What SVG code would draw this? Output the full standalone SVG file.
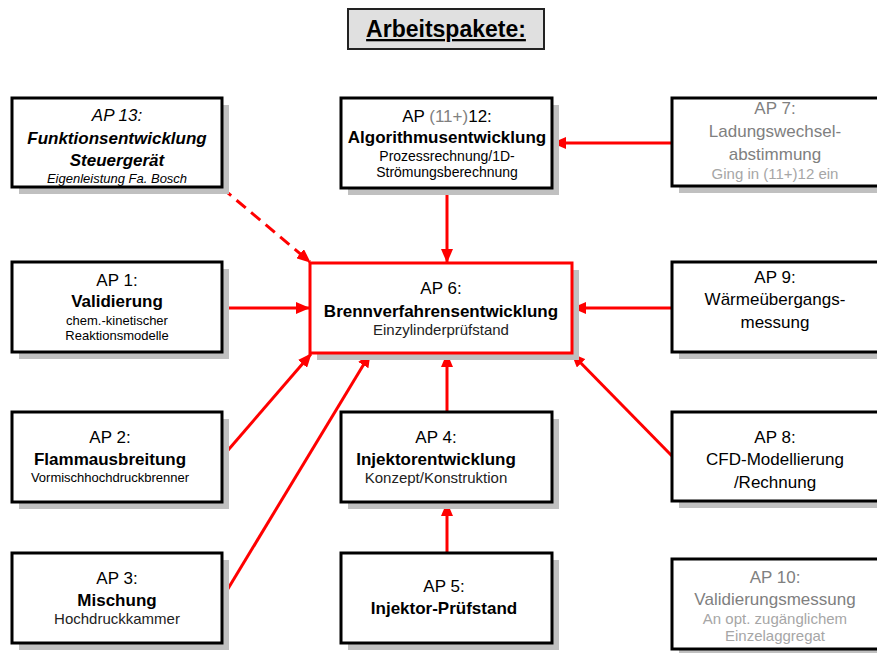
<svg xmlns="http://www.w3.org/2000/svg" width="877" height="653" viewBox="0 0 877 653">
<style>
text{font-family:"Liberation Sans",Arial,sans-serif;text-anchor:middle;fill:#000}
.shadow{fill:#c0c0c0}
.box{fill:#fff;stroke:#000;stroke-width:3}
.red{fill:#fff;stroke:#ff0000;stroke-width:3}
.t{font-size:17px}
.b{font-size:17px;font-weight:bold}
.s{font-size:13px}
.m{font-size:15px}
.g{fill:#808080}
.lg{fill:#a6a6a6}
.i{font-style:italic}
.conn line{stroke:#ff0000;stroke-width:3;marker-end:url(#ah)}
</style>
<defs>
<marker id="ah" markerUnits="userSpaceOnUse" markerWidth="16" markerHeight="12" refX="13" refY="6" orient="auto">
<path d="M0,0 L14,6 L0,12 z" fill="#ff0000"/>
</marker>
</defs>
<rect width="877" height="653" fill="#fff"/>

<g id="title">
<rect x="348" y="9" width="196" height="40" fill="#e0e0e0" stroke="#222" stroke-width="2"/>
<text x="446" y="37" style="font-size:23px;font-weight:bold;text-decoration:underline">Arbeitspakete:</text>
</g>

<g class="conn">
<line x1="222" y1="188" x2="310" y2="262" stroke-dasharray="12,7"/>
<line x1="447" y1="188" x2="447" y2="262"/>
<line x1="672" y1="143" x2="553" y2="143"/>
<line x1="223" y1="308" x2="309" y2="308"/>
<line x1="672" y1="308" x2="573" y2="308"/>
<line x1="223" y1="456" x2="311" y2="354"/>
<line x1="223" y1="597" x2="370" y2="354"/>
<line x1="447" y1="412" x2="447" y2="354"/>
<line x1="447" y1="553" x2="447" y2="503"/>
<line x1="672" y1="456" x2="572" y2="354"/>
</g>

<g id="ap13">
<rect class="shadow" x="19" y="105" width="210" height="89"/>
<rect class="box" x="12" y="98" width="210" height="89"/>
<text class="t i" x="117" y="121">AP 13:</text>
<text class="b i" x="117" y="144">Funktionsentwicklung</text>
<text class="b i" x="117" y="166">Steuergerät</text>
<text class="s i" x="117" y="183">Eigenleistung Fa. Bosch</text>
</g>

<g id="ap12">
<rect class="shadow" x="348" y="105" width="211" height="90"/>
<rect class="box" x="341" y="98" width="211" height="90"/>
<text class="t" x="447" y="122">AP <tspan class="g">(11+)</tspan>12:</text>
<text class="b" x="447" y="143">Algorithmusentwicklung</text>
<text class="s" x="447" y="161" style="font-size:14px">Prozessrechnung/1D-</text>
<text class="s" x="447" y="177" style="font-size:14px">Strömungsberechnung</text>
</g>

<g id="ap7">
<rect class="shadow" x="679" y="105" width="211" height="88"/>
<rect class="box" x="672" y="98" width="211" height="88"/>
<text class="t g" x="775" y="114">AP 7:</text>
<text class="t g" x="775" y="137">Ladungswechsel-</text>
<text class="t g" x="775" y="160">abstimmung</text>
<text class="m lg" x="775" y="179">Ging in (11+)12 ein</text>
</g>

<g id="ap1">
<rect class="shadow" x="19" y="269" width="210" height="90"/>
<rect class="box" x="12" y="262" width="210" height="90"/>
<text class="t" x="117" y="286">AP 1:</text>
<text class="b" x="117" y="307">Validierung</text>
<text class="s" x="117" y="325">chem.-kinetischer</text>
<text class="s" x="117" y="340">Reaktionsmodelle</text>
</g>

<g id="ap6">
<rect class="shadow" x="317" y="270" width="262" height="90"/>
<rect class="red" x="310" y="263" width="262" height="90"/>
<text class="t" x="441" y="294">AP 6:</text>
<text class="b" x="441" y="317">Brennverfahrensentwicklung</text>
<text class="m" x="441" y="335" style="fill:#222">Einzylinderprüfstand</text>
</g>

<g id="ap9">
<rect class="shadow" x="679" y="269" width="211" height="90"/>
<rect class="box" x="672" y="262" width="211" height="90"/>
<text class="t" x="775" y="283">AP 9:</text>
<text class="t" x="775" y="305">Wärmeübergangs-</text>
<text class="t" x="775" y="328">messung</text>
</g>

<g id="ap2">
<rect class="shadow" x="19" y="419" width="210" height="90"/>
<rect class="box" x="12" y="412" width="210" height="90"/>
<text class="t" x="110" y="443">AP 2:</text>
<text class="b" x="110" y="465">Flammausbreitung</text>
<text class="s" x="110" y="482">Vormischhochdruckbrenner</text>
</g>

<g id="ap4">
<rect class="shadow" x="348" y="419" width="211" height="90"/>
<rect class="box" x="341" y="412" width="211" height="90"/>
<text class="t" x="436" y="443">AP 4:</text>
<text class="b" x="436" y="465">Injektorentwicklung</text>
<text class="m" x="436" y="483" style="fill:#222">Konzept/Konstruktion</text>
</g>

<g id="ap8">
<rect class="shadow" x="679" y="419" width="211" height="89"/>
<rect class="box" x="672" y="412" width="211" height="89"/>
<text class="t" x="775" y="443">AP 8:</text>
<text class="t" x="775" y="465">CFD-Modellierung</text>
<text class="t" x="775" y="488">/Rechnung</text>
</g>

<g id="ap3">
<rect class="shadow" x="19" y="560" width="210" height="90"/>
<rect class="box" x="12" y="553" width="210" height="90"/>
<text class="t" x="117" y="584">AP 3:</text>
<text class="b" x="117" y="606">Mischung</text>
<text class="m" x="117" y="624" style="fill:#222">Hochdruckkammer</text>
</g>

<g id="ap5">
<rect class="shadow" x="348" y="560" width="211" height="90"/>
<rect class="box" x="341" y="553" width="211" height="90"/>
<text class="t" x="444" y="592">AP 5:</text>
<text class="b" x="444" y="614">Injektor-Prüfstand</text>
</g>

<g id="ap10">
<rect class="shadow" x="679" y="566" width="211" height="90"/>
<rect class="box" x="672" y="559" width="211" height="90"/>
<text class="t g" x="775" y="583">AP 10:</text>
<text class="t g" x="775" y="605">Validierungsmessung</text>
<text class="m lg" x="775" y="624">An opt. zugänglichem</text>
<text class="m lg" x="775" y="641">Einzelaggregat</text>
</g>
</svg>
